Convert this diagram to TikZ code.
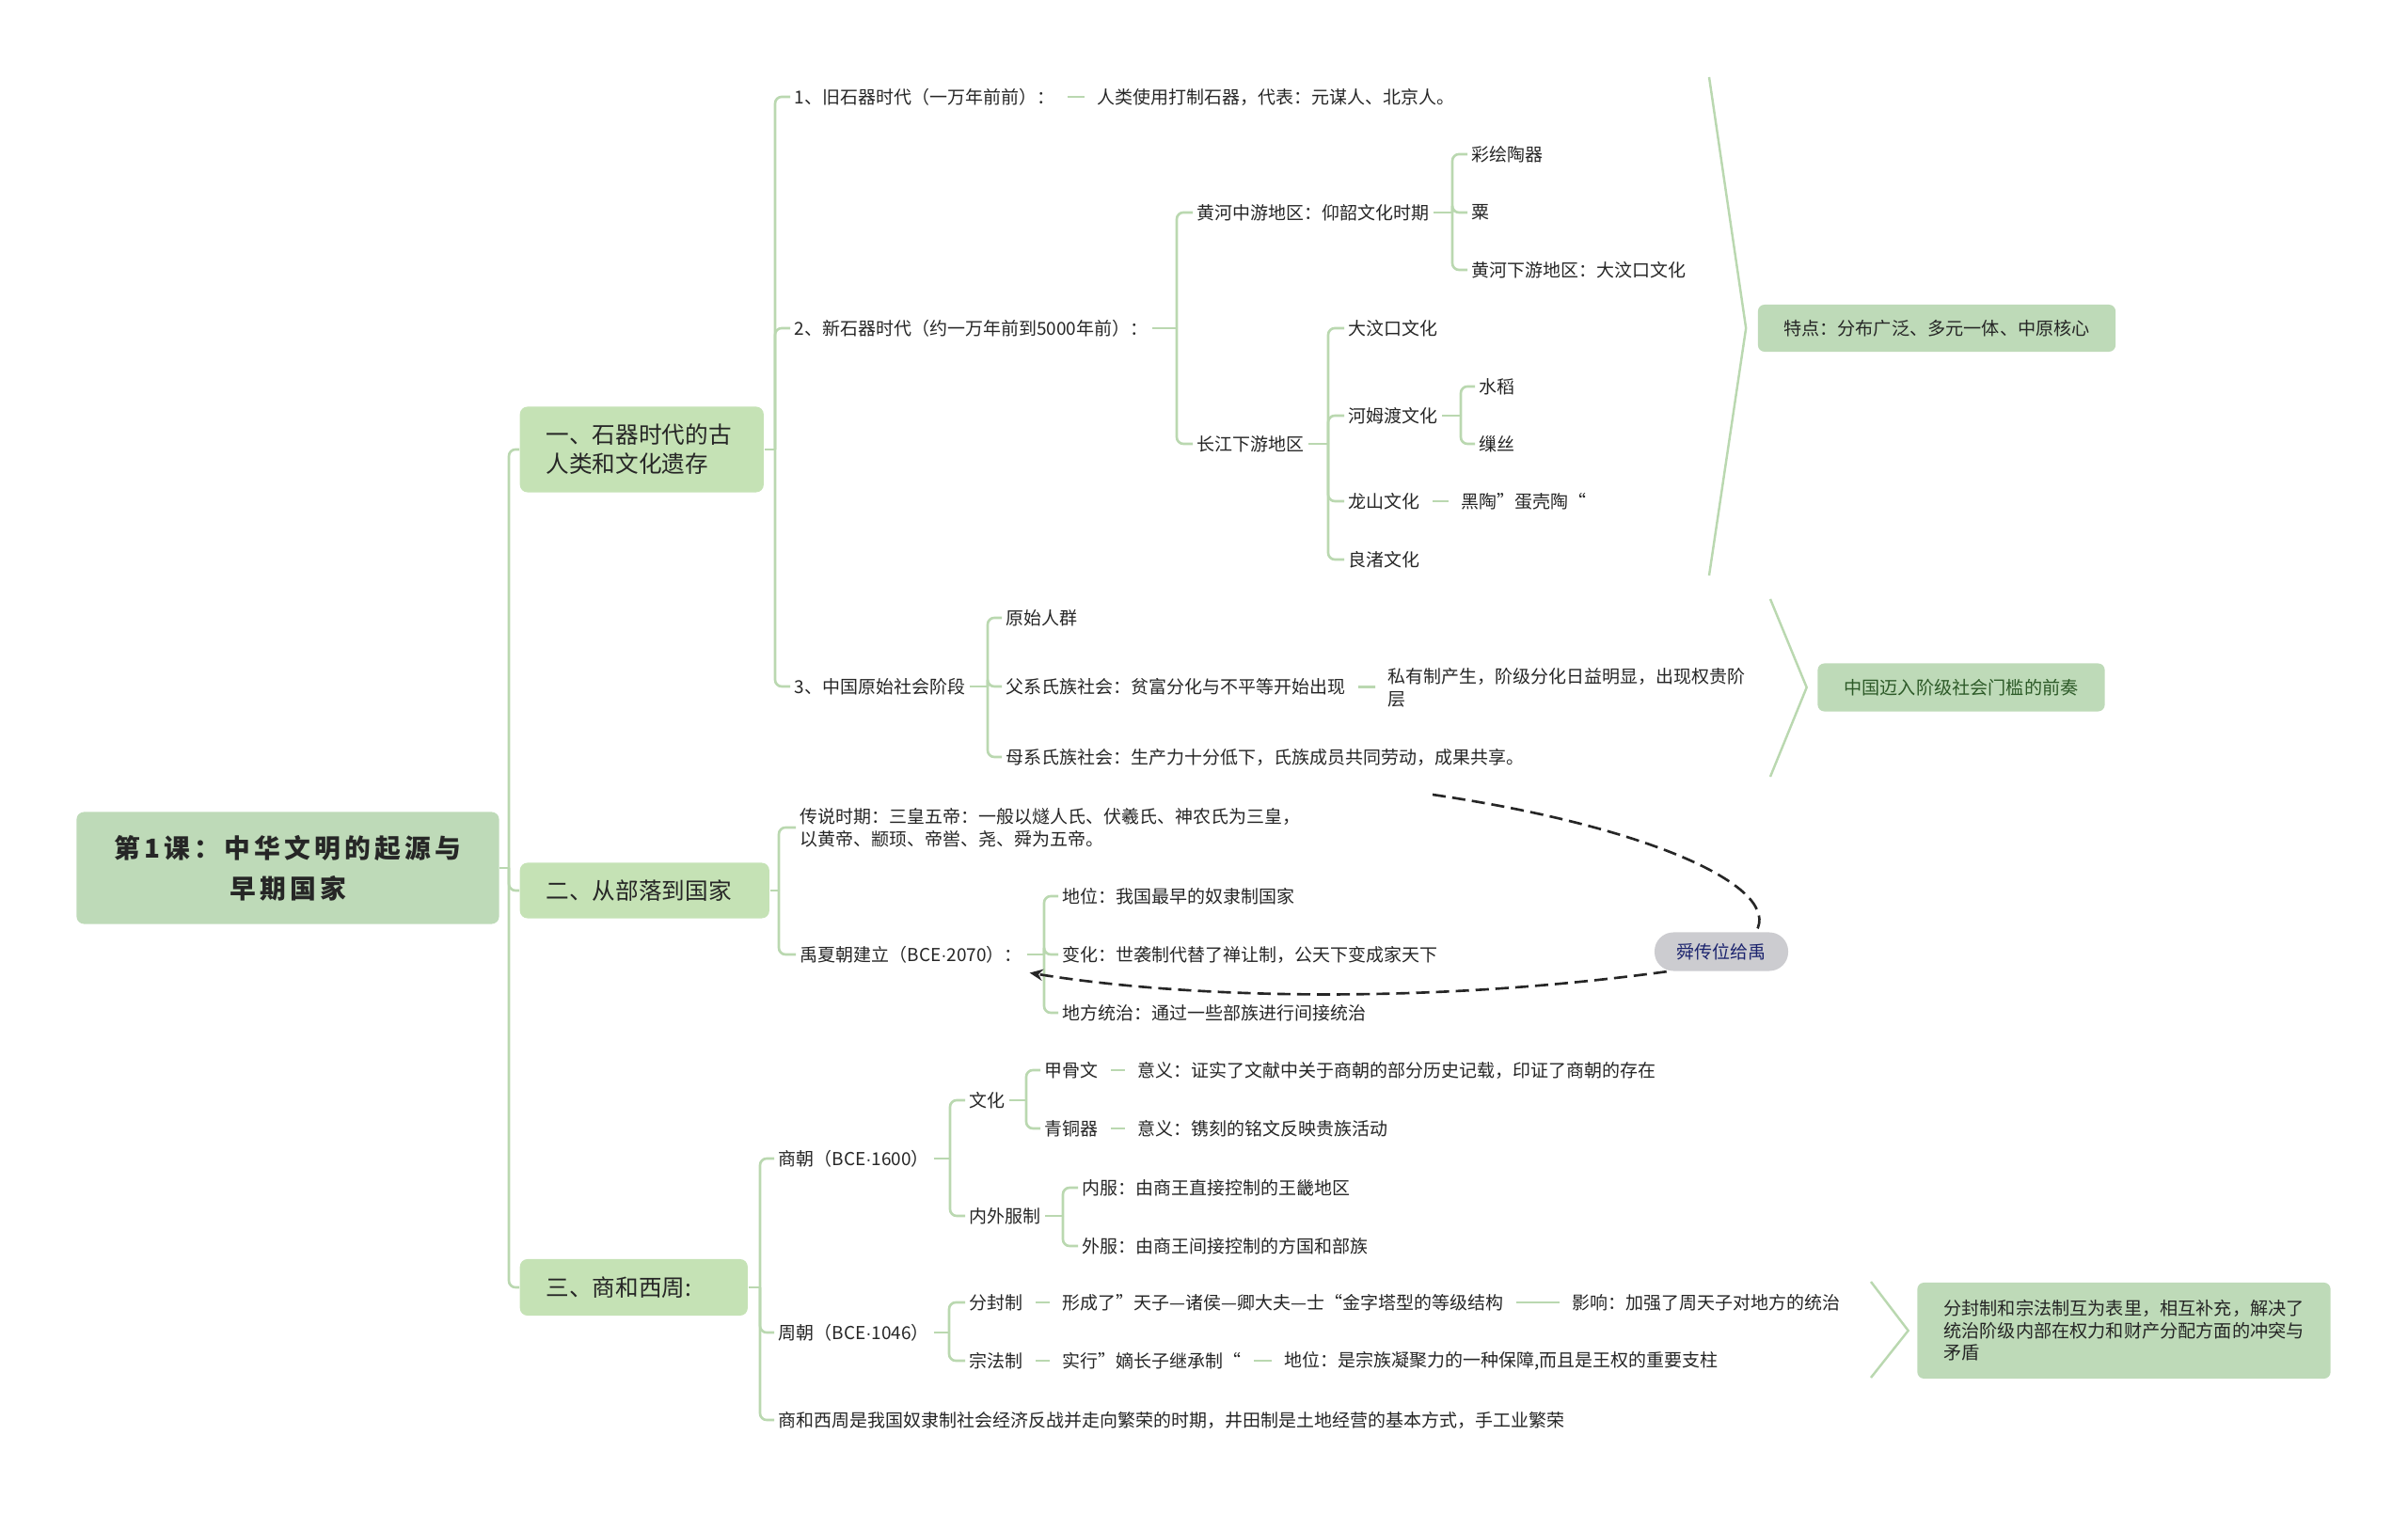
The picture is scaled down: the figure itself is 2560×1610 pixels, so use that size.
\documentclass[tikz,border=0pt]{standalone}
\usepackage{fontspec}
\setmainfont{Noto Sans CJK SC}
\newfontfamily\titlefont[LetterSpace=15]{Noto Sans CJK SC}
\newfontfamily\latinfont{Liberation Sans}
\newcommand{\mdot}{{\latinfont ·}}
\usetikzlibrary{arrows.meta,positioning,calc}
\definecolor{branch}{RGB}{186,216,176}
\definecolor{rootgreen}{RGB}{190,218,184}
\definecolor{topicgreen}{RGB}{197,226,181}
\definecolor{ink}{RGB}{38,38,38}
\definecolor{notegreen}{RGB}{45,90,40}
\definecolor{pillgray}{RGB}{204,204,208}
\definecolor{pillink}{RGB}{28,36,110}

\begin{document}
\begin{tikzpicture}[x=0.01cm,y=-0.01cm,
  txt/.style={anchor=west,inner xsep=0.04cm,inner ysep=0.5pt,align=left,text=ink,font=\fontsize{5.4}{6.8}\selectfont},
  topic/.style={anchor=west,fill=topicgreen,rounded corners=0.08cm,inner xsep=0.28cm,align=left,text=ink,font=\fontsize{7}{8.8}\selectfont},
  summary/.style={fill=rootgreen,rounded corners=0.07cm,text=ink,font=\fontsize{5.45}{6.7}\selectfont},
  pill/.style={fill=pillgray,rounded corners=0.2cm,minimum width=1.42cm,minimum height=0.41cm,inner sep=0pt,text=pillink,font=\fontsize{5.4}{6.8}\selectfont},
  link/.style={draw=branch,line width=0.75pt,rounded corners=0.07cm},
  onelink/.style={draw=branch,line width=0.75pt,shorten <=0.09cm,shorten >=0.09cm},
  sumline/.style={draw=branch,line width=0.7pt},
  rel/.style={draw=black!85,line width=0.75pt,dash pattern=on 4pt off 2pt}]

\useasboundingbox (0,0) rectangle (2560,1610);

% root and the three sections
\node[fill=rootgreen,rounded corners=0.08cm,minimum width=4.49cm,minimum height=1.19cm,align=center,text=ink,
  font=\titlefont\bfseries\fontsize{7.9}{12.2}\selectfont] (root) at (306,923) {第1课：中华文明的起源与\\早期国家};
\node[topic,text width=2.03cm,minimum height=0.91cm] (sec1) at (552,478) {一、石器时代的古\\人类和文化遗存};
\node[topic,text width=2.09cm,minimum height=0.59cm] (sec2) at (552,947) {二、从部落到国家};
\node[topic,text width=1.86cm,minimum height=0.6cm] (sec3) at (552,1369) {三、商和西周:};
\coordinate (root-j) at (541,923);
\draw[link] (root) -- (root-j);
\foreach \k in {sec1,sec2,sec3} \draw[link] (root-j) |- (\k.west);

% section 1
\node[txt] (old) at (840,103) {1、旧石器时代（一万年前前）：};
\node[txt] (oldx) at (1162,103) {人类使用打制石器，代表：元谋人、北京人。};
\node[txt] (neo) at (840,349) {2、新石器时代（约一万年前到5000年前）：};
\node[txt] (prim) at (840,730) {3、中国原始社会阶段};
\coordinate (sec1-j) at (824,478);
\draw[link] (sec1) -- (sec1-j);
\foreach \k in {old,neo,prim} \draw[link] (sec1-j) |- (\k.west);
\draw[onelink] (old) -- (oldx);

\node[txt] (hhm) at (1268,226) {黄河中游地区：仰韶文化时期};
\node[txt] (cjx) at (1268,472) {长江下游地区};
\coordinate (neo-j) at (1251,349);
\draw[link] (neo) -- (neo-j);
\foreach \k in {hhm,cjx} \draw[link] (neo-j) |- (\k.west);

\node[txt] (cai) at (1560,164) {彩绘陶器};
\node[txt] (su) at (1560,226) {粟};
\node[txt] (hhx) at (1560,287) {黄河下游地区：大汶口文化};
\coordinate (hhm-j) at (1544,226);
\draw[link] (hhm) -- (hhm-j);
\foreach \k in {cai,su,hhx} \draw[link] (hhm-j) |- (\k.west);

\node[txt] (dwk) at (1429,349) {大汶口文化};
\node[txt] (hmd) at (1429,442) {河姆渡文化};
\node[txt] (lsh) at (1429,533) {龙山文化};
\node[txt] (lzh) at (1429,595) {良渚文化};
\coordinate (cjx-j) at (1412,472);
\draw[link] (cjx) -- (cjx-j);
\foreach \k in {dwk,hmd,lsh,lzh} \draw[link] (cjx-j) |- (\k.west);

\node[txt] (shd) at (1568,411) {水稻};
\node[txt] (sao) at (1568,472) {缫丝};
\coordinate (hmd-j) at (1553,442);
\draw[link] (hmd) -- (hmd-j);
\foreach \k in {shd,sao} \draw[link] (hmd-j) |- (\k.west);
\node[txt] (heitao) at (1549,533) {黑陶”蛋壳陶“};
\draw[onelink] (lsh) -- (heitao);

\node[txt] (ysh) at (1065,657) {原始人群};
\node[txt] (fx) at (1065,730) {父系氏族社会：贫富分化与不平等开始出现};
\node[txt] (mx) at (1065,805) {母系氏族社会：生产力十分低下，氏族成员共同劳动，成果共享。};
\coordinate (prim-j) at (1050,730);
\draw[link] (prim) -- (prim-j);
\foreach \k in {ysh,fx,mx} \draw[link] (prim-j) |- (\k.west);
\node[txt] (syz) at (1471,731) {私有制产生，阶级分化日益明显，出现权贵阶\\层};
\draw[onelink] (fx) -- (syz);

% summaries on the right
\node[summary,minimum width=3.8cm,minimum height=0.5cm] (trait) at (2059,349) {特点：分布广泛、多元一体、中原核心};
\coordinate (trait-a) at (1817,82);
\coordinate (trait-b) at (1817,612);
\draw[sumline] (trait-a) -- ([xshift=-0.12cm]trait.west) -- (trait-b);
\node[summary,minimum width=3.05cm,minimum height=0.51cm,text=notegreen] (prelude) at (2085,731) {中国迈入阶级社会门槛的前奏};
\coordinate (prelude-a) at (1882,637);
\coordinate (prelude-b) at (1882,826);
\draw[sumline] (prelude-a) -- ([xshift=-0.11cm]prelude.west) -- (prelude-b);

% section 2
\node[txt] (legend) at (846,880) {传说时期：三皇五帝：一般以燧人氏、伏羲氏、神农氏为三皇，\\以黄帝、颛顼、帝喾、尧、舜为五帝。};
\node[txt] (xia) at (846,1015) {禹夏朝建立（BCE\mdot 2070）：};
\coordinate (sec2-j) at (828,947);
\draw[link] (sec2) -- (sec2-j);
\foreach \k in {legend,xia} \draw[link] (sec2-j) |- (\k.west);

\node[txt] (diwei) at (1125,953) {地位：我国最早的奴隶制国家};
\node[txt] (bianhua) at (1125,1015) {变化：世袭制代替了禅让制，公天下变成家天下};
\node[txt] (difang) at (1125,1077) {地方统治：通过一些部族进行间接统治};
\coordinate (xia-j) at (1110,1015);
\draw[link] (xia) -- (xia-j);
\foreach \k in {diwei,bianhua,difang} \draw[link] (xia-j) |- (\k.west);

% relation
\node[pill] (shun) at (1830,1012) {舜传位给禹};
\coordinate (rel-a) at (1523,845);
\draw[rel] (rel-a) .. controls (1760,880) and (1895,945) .. (shun.30);
\draw[rel,-{Stealth[length=4pt,width=3.5pt]}] (shun.200) .. controls (1500,1070) and (1250,1060) .. ([xshift=0.03cm,yshift=-0.08cm]xia.south east);

% section 3
\node[txt] (shang) at (823,1232) {商朝（BCE\mdot 1600）};
\node[txt] (zhou) at (823,1417) {周朝（BCE\mdot 1046）};
\node[txt] (jingji) at (823,1510) {商和西周是我国奴隶制社会经济反战并走向繁荣的时期，井田制是土地经营的基本方式，手工业繁荣};
\coordinate (sec3-j) at (808,1369);
\draw[link] (sec3) -- (sec3-j);
\foreach \k in {shang,zhou,jingji} \draw[link] (sec3-j) |- (\k.west);

\node[txt] (wenhua) at (1026,1170) {文化};
\node[txt] (neiwai) at (1026,1293) {内外服制};
\coordinate (shang-j) at (1010,1232);
\draw[link] (shang) -- (shang-j);
\foreach \k in {wenhua,neiwai} \draw[link] (shang-j) |- (\k.west);

\node[txt] (jiagu) at (1106,1138) {甲骨文};
\node[txt] (qingtong) at (1106,1200) {青铜器};
\coordinate (wenhua-j) at (1091,1170);
\draw[link] (wenhua) -- (wenhua-j);
\foreach \k in {jiagu,qingtong} \draw[link] (wenhua-j) |- (\k.west);
\node[txt] (jiagux) at (1205,1138) {意义：证实了文献中关于商朝的部分历史记载，印证了商朝的存在};
\node[txt] (qingtongx) at (1205,1200) {意义：镌刻的铭文反映贵族活动};
\draw[onelink] (jiagu) -- (jiagux);
\draw[onelink] (qingtong) -- (qingtongx);

\node[txt] (neifu) at (1146,1263) {内服：由商王直接控制的王畿地区};
\node[txt] (waifu) at (1146,1325) {外服：由商王间接控制的方国和部族};
\coordinate (neiwai-j) at (1130,1293);
\draw[link] (neiwai) -- (neiwai-j);
\foreach \k in {neifu,waifu} \draw[link] (neiwai-j) |- (\k.west);

\node[txt] (fenfeng) at (1026,1385) {分封制};
\node[txt] (zongfa) at (1026,1447) {宗法制};
\coordinate (zhou-j) at (1009,1417);
\draw[link] (zhou) -- (zhou-j);
\foreach \k in {fenfeng,zongfa} \draw[link] (zhou-j) |- (\k.west);
\node[txt] (fenfengx) at (1125,1385) {形成了”天子—诸侯—卿大夫—士“金字塔型的等级结构};
\node[txt] (yingxiang) at (1667,1385) {影响：加强了周天子对地方的统治};
\node[txt] (zongfax) at (1125,1447) {实行”嫡长子继承制“};
\node[txt] (zfdiwei) at (1361,1447) {地位：是宗族凝聚力的一种保障,而且是王权的重要支柱};
\draw[onelink] (fenfeng) -- (fenfengx);
\draw[onelink] (fenfengx) -- (yingxiang);
\draw[onelink] (zongfa) -- (zongfax);
\draw[onelink] (zongfax) -- (zfdiwei);

\node[summary,text width=3.83cm,inner xsep=0.28cm,minimum height=1.02cm,align=left] (comp) at (2258,1415) {分封制和宗法制互为表里，相互补充，解决了\\统治阶级内部在权力和财产分配方面的冲突与\\矛盾};
\coordinate (comp-a) at (1989,1363);
\coordinate (comp-b) at (1989,1465);
\draw[sumline] (comp-a) -- ([xshift=-0.09cm]comp.west) -- (comp-b);
\end{tikzpicture}
\end{document}
